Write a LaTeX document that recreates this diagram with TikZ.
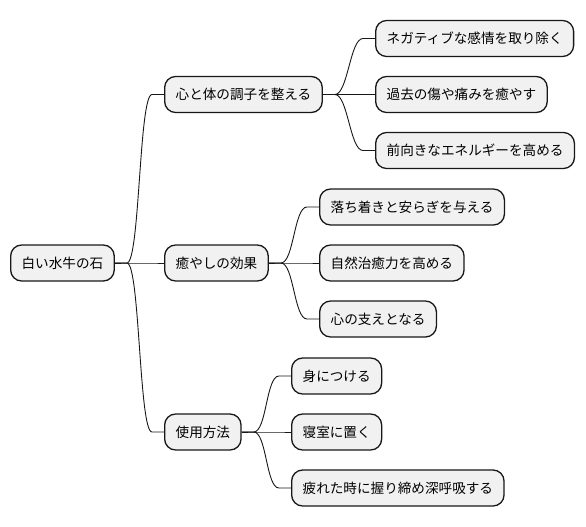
\documentclass[tikz,border=0pt]{standalone}
\usepackage{fontspec}
\setmainfont{Noto Sans CJK JP}
\usetikzlibrary{calc}

\begin{document}
\begin{tikzpicture}[x=1pt,y=-1pt,
    topic/.style={draw=boxline, fill=boxfill, line width=1.3pt, rounded corners=11pt,
      anchor=west, minimum height=36pt, inner xsep=11pt,
      font=\fontsize{13.6}{16}\selectfont},
    branch/.style={draw=boxline, line width=0.9pt}]
            \definecolor{boxfill}{RGB}{241,241,241}
            \definecolor{boxline}{RGB}{24,24,24}
            \useasboundingbox (0,0) rectangle (586,527);

            % Radice
            \node[topic] (stone) at (10,263) {白い水牛の石};

            % Mente e corpo
            \node[topic] (balance) at (164,94.5) {心と体の調子を整える};
            \node[topic] (negative) at (375,38.5) {ネガティブな感情を取り除く};
            \node[topic] (wounds) at (375,94.5) {過去の傷や痛みを癒やす};
            \node[topic] (energy) at (375,150.5) {前向きなエネルギーを高める};

            % Effetti
            \node[topic] (effect) at (164,263) {癒やしの効果};
            \node[topic] (calm) at (319,207) {落ち着きと安らぎを与える};
            \node[topic] (recovery) at (319,263) {自然治癒力を高める};
            \node[topic] (support) at (319,319) {心の支えとなる};

            % Uso
            \node[topic] (usage) at (164,432) {使用方法};
            \node[topic] (wear) at (291,376) {身につける};
            \node[topic] (bedroom) at (291,432) {寝室に置く};
            \node[topic] (breathe) at (291,488) {疲れた時に握り締め深呼吸する};

            % Rami
            \foreach \p/\c in {stone/balance, stone/effect, stone/usage,
                balance/negative, balance/wounds, balance/energy,
                effect/calm, effect/recovery, effect/support,
                usage/wear, usage/bedroom, usage/breathe}
              \draw[branch] (\p.east) -- ++(12,0) .. controls +(13,0) and +(-13,0) .. ($(\c.west)+(-12,0)$) -- (\c.west);
        \end{tikzpicture}
\end{document}
